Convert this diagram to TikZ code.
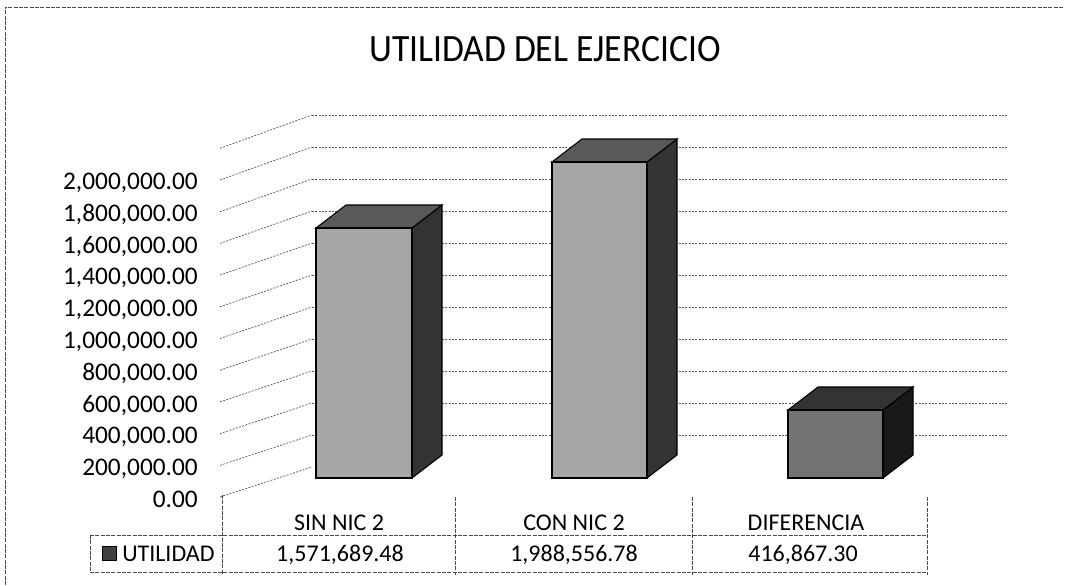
\documentclass[tikz,border=0pt]{standalone}
\usepackage{fontspec}
\setmainfont{Carlito}
\usetikzlibrary{positioning}

\begin{document}
\begin{tikzpicture}[x=0.75pt,y=-0.75pt,
    rejilla/.style={black!65, line width=0.55pt, dash pattern=on 1.5pt off 1pt},
    borde/.style={black!70, line width=0.6pt, dash pattern=on 3pt off 1pt},
    eje/.style={anchor=base east, inner sep=0pt, font=\fontsize{19}{21}\selectfont},
    celda/.style={anchor=base, inner sep=0pt, font=\fontsize{18}{20}\selectfont},
    frente/.style={draw=black, line width=0.8pt, fill=black!#1},
    lado/.style={draw=black, line width=0.8pt, fill=black!#1},
    tapa/.style={draw=black, line width=0.8pt, fill=black!#1}]
  \useasboundingbox (0,0) rectangle (1066,585);

  % MARCO
  \draw[borde] (5,585) -- (5,7) -- (1063,7);

  % TITULO
  \node [anchor=base, inner sep=0pt, font=\fontsize{29}{31}\selectfont] (titulo) at (545,62) {\scalebox{0.92}[1]{UTILIDAD DEL EJERCICIO}};

  % REJILLA
  \foreach \i in {0,...,11}
    \draw[rejilla] (220,{497-31.7*\i}) -- (312,{467-32*\i});
  \foreach \i in {1,...,11}
    \draw[rejilla] (312,{467-32*\i}) -- (1007,{467-32*\i});

  % EJE VERTICAL
  \node [eje] (eje20) at (198,189) {2,000,000.00};
  \node [eje] (eje18) at (198,221) {1,800,000.00};
  \node [eje] (eje16) at (198,253) {1,600,000.00};
  \node [eje] (eje14) at (198,284) {1,400,000.00};
  \node [eje] (eje12) at (198,316) {1,200,000.00};
  \node [eje] (eje10) at (198,348) {1,000,000.00};
  \node [eje] (eje08) at (198,380) {800,000.00};
  \node [eje] (eje06) at (198,412) {600,000.00};
  \node [eje] (eje04) at (198,443) {400,000.00};
  \node [eje] (eje02) at (198,475) {200,000.00};
  \node [eje] (eje00) at (198,507) {0.00};

  % BARRAS
  \draw[lado=80]   (412,478) -- (412,228) -- ++(30,-23) -- ++(0,250) -- cycle;
  \draw[tapa=65]   (316,228) -- ++(30,-23) -- ++(96,0) -- (412,228) -- cycle;
  \draw[frente=35] (316,228) rectangle (412,478);

  \draw[lado=80]   (647,478) -- (647,162) -- ++(30,-23) -- ++(0,316) -- cycle;
  \draw[tapa=65]   (552,162) -- ++(30,-23) -- ++(95,0) -- (647,162) -- cycle;
  \draw[frente=35] (552,162) rectangle (647,478);

  \draw[lado=90]   (883,478) -- (883,410) -- ++(30,-23) -- ++(0,68) -- cycle;
  \draw[tapa=80]   (788,410) -- ++(30,-23) -- ++(95,0) -- (883,410) -- cycle;
  \draw[frente=55] (788,410) rectangle (883,478);

  % TABLA DE DATOS
  \draw[borde] (90,535) -- (927,535);
  \draw[borde] (90,572) -- (927,572);
  \draw[borde] (90,535) -- (90,572);
  \draw[borde] (222,495) -- (222,575);
  \draw[borde] (455,497) -- (455,575);
  \draw[borde] (692,497) -- (692,575);
  \draw[borde] (927,497) -- (927,575);

  \node [celda] (sinnic) at (339,530) {SIN NIC 2};
  \node [celda] (connic) at (574,530) {CON NIC 2};
  \node [celda] (diferencia) at (806,530) {DIFERENCIA};

  \node [celda, anchor=base west] (utilidad) at (122,561) {UTILIDAD};
  \node [draw=black, fill=black!75, minimum size=10.5pt, inner sep=0pt, left=3.75pt of utilidad.west] (leyenda) {};
  \node [celda] (sinnicvalor) at (340,561) {1,571,689.48};
  \node [celda] (connicvalor) at (574,561) {1,988,556.78};
  \node [celda] (diferenciavalor) at (803,561) {416,867.30};
\end{tikzpicture}
\end{document}
